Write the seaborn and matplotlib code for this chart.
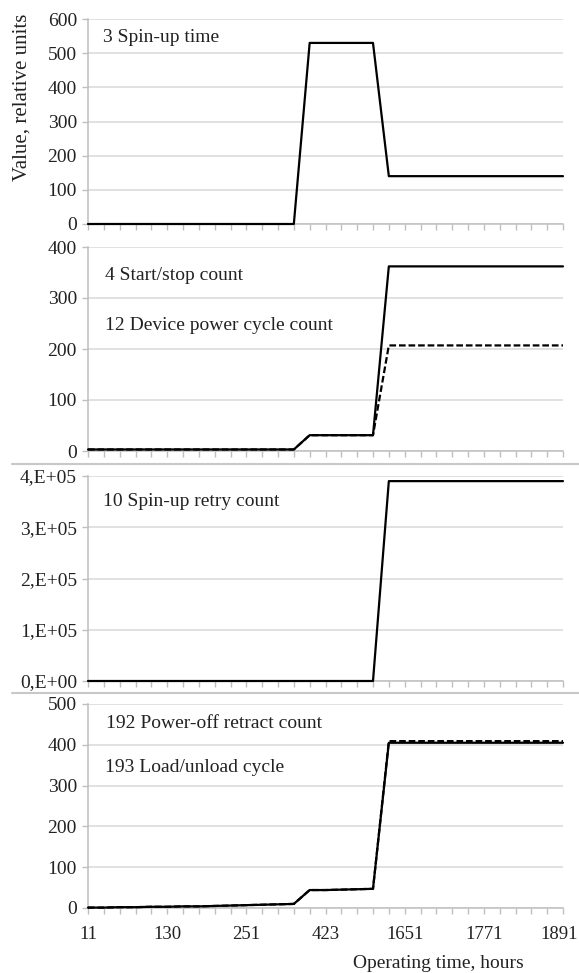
import matplotlib
matplotlib.use("Agg")
import matplotlib.pyplot as plt
import matplotlib.transforms as mtransforms
import seaborn as sns
import numpy as np
from matplotlib.lines import Line2D

# ---------------- data ----------------
n_points = 31
idx = list(range(n_points))
xtick_pos = [0, 5, 10, 15, 20, 25, 30]
xtick_labels = ["11", "130", "251", "423", "1651", "1771", "1891"]

spin_up_time = [0]*13 + [0, 530, 530, 530, 530, 530] + [140]*12
start_stop = [3]*13 + [3, 31, 31, 31, 31, 31] + [362]*12
power_cycle = [3]*13 + [3, 31, 31, 31, 31, 31] + [207]*12
spin_retry = [0]*19 + [390000]*12
power_off_retract = [1, 1, 2, 2, 3, 3, 4, 4, 5, 6, 7, 8, 9, 10, 44, 44, 45, 46, 47] + [405]*12
load_unload = [1, 1, 2, 2, 3, 3, 4, 4, 5, 6, 7, 8, 9, 10, 44, 44, 45, 46, 47] + [409]*12

p1_yticks = [0, 100, 200, 300, 400, 500, 600]
p2_yticks = [0, 100, 200, 300, 400]
p3_yticks = [0, 100000, 200000, 300000, 400000]
p3_yticklabels = ["0,E+00", "1,E+05", "2,E+05", "3,E+05", "4,E+05"]
p4_yticks = [0, 100, 200, 300, 400, 500]

# ---------------- style ----------------
sns.set_style("white")
plt.rcParams['font.family'] = ['Liberation Serif', 'DejaVu Serif']
FS = 14
W, H = 579, 973
fig = plt.figure(figsize=(W/100, H/100), dpi=100)

def rect(t, b):
    return [88/W, 1 - b/H, 475/W, (b - t)/H]

panels = [(19, 224), (247, 451), (476, 681), (704, 908)]
axes = [fig.add_axes(rect(t, b)) for t, b in panels]

GRID = "#d9d9d9"
AXC = "#bfbfbf"
TXT = "#222222"
dash = (0, (3, 1.3))

def style(ax, yticks, ylabels=None, show_x=False):
    ax.set_xlim(0, n_points - 1)
    ax.set_ylim(yticks[0], yticks[-1])
    ax.set_yticks(yticks)
    if ylabels is not None:
        ax.set_yticklabels(ylabels)
    ax.set_xticks(idx)
    if show_x:
        lbls = [""]*n_points
        for p, l in zip(xtick_pos, xtick_labels):
            lbls[p] = l
        ax.set_xticklabels(lbls)
    else:
        ax.set_xticklabels([])
    ax.grid(axis="y", color=GRID, lw=1.1)
    ax.grid(axis="x", visible=False)
    for s in ["top", "right"]:
        ax.spines[s].set_visible(False)
    for s in ["left", "bottom"]:
        ax.spines[s].set_color(AXC)
        ax.spines[s].set_linewidth(1.1)
    ax.tick_params(axis="both", which="both", length=4, width=1, color=AXC,
                   labelcolor=TXT, direction="out", bottom=True, left=True)
    ax.tick_params(axis="y", pad=4, labelsize=14)
    ax.tick_params(axis="x", pad=9, labelsize=13.5)
    ax.set_xlabel("")
    ax.set_ylabel("")
    ax.set_axisbelow(True)
    for ln in ax.get_lines():
        ln.set_clip_on(False)
        ln.set_zorder(4)
    leg = ax.get_legend()
    if leg is not None:
        leg.remove()

LW = 1.6
# Panel 1
sns.lineplot(x=idx, y=spin_up_time, ax=axes[0], color="black", lw=LW)
style(axes[0], p1_yticks)
fig.text(103/W, 1 - 37/H, "3 Spin-up time", fontsize=FS, va="center", ha="left", color=TXT)
fig.text(22/W, 1 - 97/H, "Value, relative units", rotation=90, fontsize=15,
         va="center", ha="center", color=TXT)

# Panel 2
sns.lineplot(x=idx, y=start_stop, ax=axes[1], color="black", lw=LW)
sns.lineplot(x=idx, y=power_cycle, ax=axes[1], color="black", lw=LW, linestyle=dash)
style(axes[1], p2_yticks)
fig.text(105/W, 1 - 276/H, "4 Start/stop count", fontsize=FS, va="center", ha="left", color=TXT)
fig.text(105/W, 1 - 325/H, "12 Device power cycle count", fontsize=FS, va="center", ha="left", color=TXT)

# Panel 3
sns.lineplot(x=idx, y=spin_retry, ax=axes[2], color="black", lw=LW)
style(axes[2], p3_yticks, p3_yticklabels)
fig.text(103/W, 1 - 502/H, "10 Spin-up retry count", fontsize=FS, va="center", ha="left", color=TXT)

# Panel 4
sns.lineplot(x=idx, y=power_off_retract, ax=axes[3], color="black", lw=LW)
sns.lineplot(x=idx, y=load_unload, ax=axes[3], color="black", lw=LW, linestyle=dash)
style(axes[3], p4_yticks, show_x=True)
fig.text(106/W, 1 - 724/H, "192 Power-off retract count", fontsize=FS, va="center", ha="left", color=TXT)
fig.text(105/W, 1 - 768/H, "193 Load/unload cycle", fontsize=FS, va="center", ha="left", color=TXT)
fig.text(438/W, 1 - 963/H, "Operating time, hours", fontsize=FS, va="center", ha="center", color=TXT)

# keep last x label inside the canvas
last = axes[3].get_xticklabels()[-1]
last.set_transform(last.get_transform() + mtransforms.ScaledTranslation(-4/100, 0, fig.dpi_scale_trans))

# separators between stacked charts
for yy in [464, 693]:
    fig.add_artist(Line2D([12/W, 1.0], [1 - yy/H, 1 - yy/H], transform=fig.transFigure,
                          color="#c8c8c8", lw=1.5))

fig.savefig("out.png", dpi=100, facecolor="white")
